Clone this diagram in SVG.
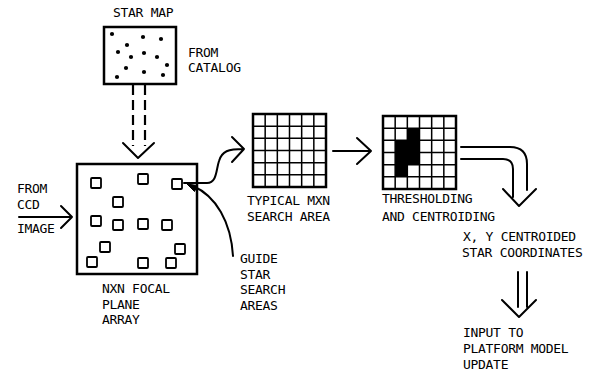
<svg xmlns="http://www.w3.org/2000/svg" width="598" height="375" viewBox="0 0 598 375">
<style>
text{font-family:"DejaVu Sans Mono","Liberation Mono",monospace;font-size:13px;letter-spacing:-0.3px;fill:#000}
.ln{fill:none;stroke:#000;stroke-width:2;stroke-linecap:round;stroke-linejoin:round}
.box{fill:#fff;stroke:#000;stroke-width:2.5}
.sq{fill:#fff;stroke:#000;stroke-width:1.8}
.g{fill:none;stroke:#000;stroke-width:1.5}
.dash{fill:none;stroke:#000;stroke-width:2.2;stroke-dasharray:10 5}
</style>
<defs>
<rect id="s" class="sq" x="-5" y="-5" width="10" height="10" rx="1"/>
<g id="grid">
<rect x="0" y="0" width="73" height="73" fill="#fff"/>
<path class="g" d="M12.17,0V73M24.33,0V73M36.5,0V73M48.67,0V73M60.83,0V73M0,12.17H73M0,24.33H73M0,36.5H73M0,48.67H73M0,60.83H73"/>
<rect x="0" y="0" width="73" height="73" fill="none" stroke="#000" stroke-width="2.5"/>
</g>
</defs>

<g id="star-map">
<text x="113" y="17">STAR MAP</text>
<rect class="box" x="104" y="27" width="72" height="57"/>
<g fill="#000">
<circle cx="112" cy="34" r="2.1"/><circle cx="143" cy="37" r="2.1"/><circle cx="161" cy="39" r="2.1"/>
<circle cx="127" cy="45" r="2.1"/><circle cx="118" cy="52" r="2.1"/><circle cx="131" cy="57" r="2.1"/>
<circle cx="144" cy="53" r="2.1"/><circle cx="157" cy="57" r="2.1"/><circle cx="167" cy="65" r="2.1"/>
<circle cx="126" cy="68" r="2.1"/><circle cx="144" cy="72" r="2.1"/><circle cx="117" cy="77" r="2.1"/>
<circle cx="163" cy="75" r="2.1"/>
</g>
<text x="188" y="57">FROM</text>
<text x="188" y="72">CATALOG</text>
</g>

<g id="focal-plane">
<rect class="box" x="77" y="164" width="120" height="110"/>
<use href="#s" x="96" y="183"/><use href="#s" x="143" y="179"/><use href="#s" x="177" y="184"/>
<use href="#s" x="118" y="202"/><use href="#s" x="96" y="221"/><use href="#s" x="118" y="225"/>
<use href="#s" x="143" y="224"/><use href="#s" x="167" y="225"/><use href="#s" x="105" y="247"/>
<use href="#s" x="180" y="249"/><use href="#s" x="92" y="262"/><use href="#s" x="143" y="263"/>
<use href="#s" x="171" y="263"/>
<text x="102" y="293">NXN FOCAL</text>
<text x="102" y="309">PLANE</text>
<text x="102" y="324">ARRAY</text>
</g>

<g id="ccd-input">
<text x="17" y="193">FROM</text>
<text x="17" y="209">CCD</text>
<text x="17" y="233">IMAGE</text>
</g>

<g id="guide-label">
<text x="240" y="263">GUIDE</text>
<text x="240" y="279">STAR</text>
<text x="240" y="294">SEARCH</text>
<text x="240" y="310">AREAS</text>
</g>

<g id="search-area">
<use href="#grid" x="253" y="114"/>
<text x="247" y="205">TYPICAL MXN</text>
<text x="247" y="221">SEARCH AREA</text>
</g>

<g id="threshold">
<use href="#grid" x="383" y="116"/>
<g fill="#000">
<rect x="407.3" y="128.2" width="12.2" height="12.2"/>
<rect x="395.2" y="140.3" width="24.3" height="24.4"/>
<rect x="395.2" y="164.7" width="12.2" height="12.2"/>
</g>
<text x="382" y="203">THRESHOLDING</text>
<text x="382" y="221">AND CENTROIDING</text>
</g>

<g id="coords">
<text x="463" y="241">X, Y CENTROIDED</text>
<text x="462" y="257">STAR COORDINATES</text>
</g>

<g id="output">
<text x="463" y="337">INPUT TO</text>
<text x="463" y="353">PLATFORM MODEL</text>
<text x="463" y="369">UPDATE</text>
</g>

<g id="connectors">
<path class="dash" d="M133,85V146M145,85V146"/>
<path class="ln" d="M123,143L138,158L154,143"/>
<path class="ln" d="M19,217H72M61,206L72,217L61,228"/>
<path class="ln" d="M184,183H207C217,183 216,170 219,161C222,151 228,149 244,149M232,137L244,149L232,162"/>
<path class="ln" d="M233,256C231,222 216,196 193,186"/>
<polygon points="187,184 197.5,185.5 194.5,191.5" fill="#000" stroke="#000" stroke-width="1"/>
<path class="ln" d="M333,151H371M357,138L371,151L357,164"/>
<path class="ln" d="M461,147H510Q527,147 527,164V190M461,159H503Q513,159 513,169V197M503,189L519,206L536,189"/>
<path class="ln" d="M518,272V307M527,272V307M502,300L519,317L536,300"/>
</g>
</svg>
